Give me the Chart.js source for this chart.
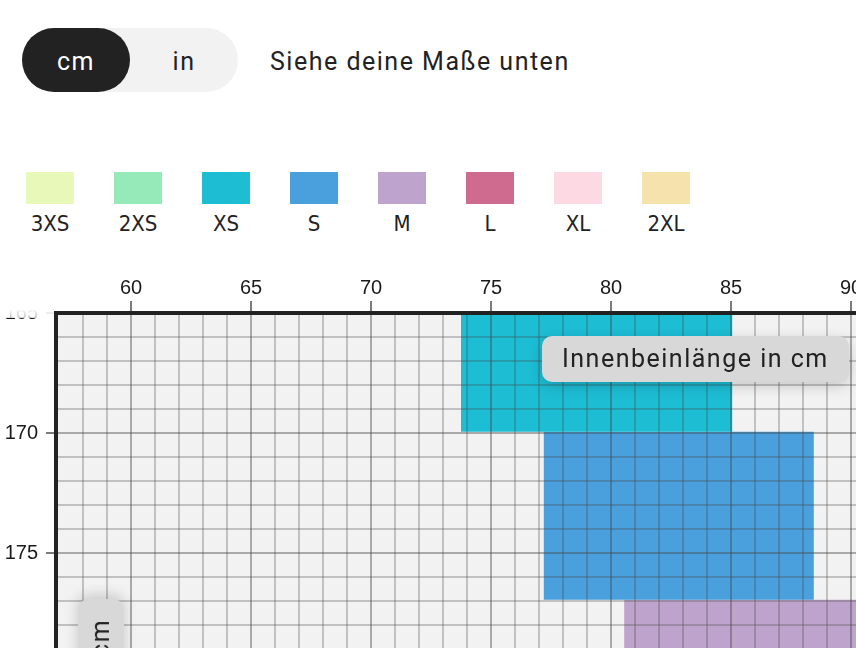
<!DOCTYPE html>
<html>
<head>
<meta charset="utf-8">
<script src="https://cdn.jsdelivr.net/npm/chart.js@4.4.1/dist/chart.umd.min.js"></script>
<style>
html,body{margin:0;padding:0;width:856px;height:648px;overflow:hidden;background:#fff;}
body{position:relative;font-family:Roboto,"Liberation Sans",sans-serif;color:#222;}
.toggle{position:absolute;left:22px;top:28px;width:216px;height:64px;border-radius:32px;background:#f2f2f2;}
.toggle .on{position:absolute;left:0;top:0;width:108px;height:64px;border-radius:32px;background:#222;color:#fff;font-size:25px;line-height:68px;text-align:center;letter-spacing:1.5px;}
.toggle .off{position:absolute;left:108px;top:0;width:108px;height:64px;line-height:68px;text-align:center;font-size:25px;color:#222;letter-spacing:1.5px;}
.hint{position:absolute;left:270px;top:28px;line-height:68px;font-size:25px;letter-spacing:1.5px;white-space:nowrap;}
.li{position:absolute;top:172px;width:48px;height:32px;}
.lt{position:absolute;top:41px;left:-20px;width:88px;text-align:center;line-height:22px;font-family:"Liberation Sans Narrow","DejaVu Sans Condensed",sans-serif;font-size:22px;color:#222;}
#wrap{position:absolute;left:0;top:260px;width:1019px;height:413px;}
.fade{position:absolute;left:0;top:280px;width:54px;height:38px;background:linear-gradient(to bottom,#fff 0,#fff 29px,rgba(255,255,255,0.72) 100%);z-index:2;}
.badge{position:absolute;background:#d8d8d8;border-radius:10px;box-shadow:0 4px 14px rgba(0,0,0,0.18);font-size:25px;letter-spacing:1.5px;color:#222;white-space:nowrap;z-index:3;}
.bh{left:542px;top:336px;height:46px;line-height:46px;padding:0 20px;}
.bv{left:78px;top:599px;width:46px;line-height:46px;padding:20px 0;writing-mode:vertical-rl;transform:rotate(180deg);}
</style>
</head>
<body>
<div class="toggle"><div class="on">cm</div><div class="off">in</div></div>
<div class="hint">Siehe deine Maße unten</div>
<div id="legend"></div>
<div id="wrap"><canvas id="c" width="1019" height="413"></canvas></div>
<div class="fade"></div>
<div class="badge bh">Innenbeinlänge in cm</div>
<div class="badge bv">Körpergröße in cm</div>
<script>
// Legend
const legendSizes = ['3XS','2XS','XS','S','M','L','XL','2XL'];
const legendColors = ['#e8f8b8','#96e9b9','#1dbdd4','#4aa0dc','#bea4cc','#cf6b8e','#fdd9e4','#f5e2ac'];

// Size rectangles visible in the chart (inseam cm on x, body height cm on y)
const rectSizes = ['XS','S','M'];
const inseamMin = [73.75, 77.2, 80.55];
const inseamMax = [85.05, 88.45, 91.85];
const heightMin = [163, 170, 177];
const heightMax = [170, 177, 184];

// Tick labels
const xTickLabels = [60,65,70,75,80,85,90,95];
const yTickLabels = [165,170,175,180];

const X_MIN = 56.875, X_MAX = 97, Y_MIN = 165.05, Y_MAX = 180.05;
const PX_PER_CM = 24, AXIS_W = 56, AXIS_H = 53;

const leg = document.getElementById('legend');
legendSizes.forEach((s,i)=>{
  const d = document.createElement('div');
  d.className = 'li';
  d.style.left = (26 + i*88) + 'px';
  d.style.background = legendColors[i];
  const t = document.createElement('div');
  t.className = 'lt';
  t.textContent = s;
  d.appendChild(t);
  leg.appendChild(d);
});

const colorOf = s => legendColors[legendSizes.indexOf(s)];

const bgPlugin = {
  id:'bg',
  beforeDraw(chart){
    const {ctx, chartArea:a} = chart;
    ctx.save();
    ctx.fillStyle = '#f2f2f2';
    ctx.fillRect(a.left, a.top, a.right-a.left, a.bottom-a.top);
    ctx.restore();
  }
};

const near = (v, list) => {
  const r = Math.round(v);
  return Math.abs(v - r) < 0.1 && list.includes(r) ? r : null;
};
const gridColor = list => ctx => {
  const v = ctx.tick ? ctx.tick.value : NaN;
  return near(v, list) !== null ? 'rgba(70,70,70,0.42)' : 'rgba(70,70,70,0.28)';
};
const tickCol = (list, hideFirst) => ctx => {
  const v = ctx.tick ? ctx.tick.value : NaN;
  if (hideFirst && ctx.index === 0) return 'rgba(0,0,0,0)';
  return near(v, list) !== null ? '#333' : 'rgba(0,0,0,0)';
};
const labelOf = list => v => { const r = near(v, list); return r === null ? '' : String(r); };
const tickFont = {family:'"Liberation Sans", Arial, sans-serif', size:20};

const chart = new Chart(document.getElementById('c'), {
  type:'scatter',
  data:{
    datasets: rectSizes.map((s,i)=>({
      label:s,
      type:'line',
      data:[
        {x:inseamMin[i], y:heightMin[i]},
        {x:inseamMax[i], y:heightMin[i]},
        {x:inseamMax[i], y:heightMax[i]},
        {x:inseamMin[i], y:heightMax[i]},
        {x:inseamMin[i], y:heightMin[i]}
      ],
      backgroundColor: colorOf(s),
      borderColor: colorOf(s),
      borderWidth:0,
      pointRadius:0,
      showLine:true,
      tension:0,
      fill:'shape'
    }))
  },
  options:{
    responsive:false,
    maintainAspectRatio:false,
    animation:false,
    devicePixelRatio:1,
    layout:{padding:0},
    plugins:{legend:{display:false}, tooltip:{enabled:false}},
    scales:{
      x:{
        type:'linear', position:'top', min:X_MIN, max:X_MAX,
        afterFit(s){ s.height = AXIS_H; s.paddingLeft = 0; s.paddingRight = 0; },
        ticks:{stepSize:1, autoSkip:false, maxRotation:0, padding:1, font:tickFont, color:'#1a1a1a',
          callback:labelOf(xTickLabels)},
        grid:{z:1, color:gridColor(xTickLabels), lineWidth:2, tickLength:12, tickWidth:1.3, tickColor:tickCol(xTickLabels, false)},
        border:{z:2, color:'#222', width:4}
      },
      y:{
        type:'linear', position:'left', reverse:true, min:Y_MIN, max:Y_MAX,
        afterFit(s){ s.width = AXIS_W; s.paddingTop = 0; s.paddingBottom = 0; },
        ticks:{stepSize:1, autoSkip:false, padding:8, font:tickFont, color:'#1a1a1a',
          callback:labelOf(yTickLabels)},
        grid:{z:1, color:gridColor(yTickLabels), lineWidth:2, tickLength:10, tickWidth:1.3, tickColor:tickCol(yTickLabels, true)},
        border:{z:2, color:'#222', width:4}
      }
    }
  },
  plugins:[bgPlugin]
});

// make sure the plot keeps exactly 24 px per cm on both axes
for (let k = 0; k < 2; k++) {
  const a = chart.chartArea;
  const dw = (X_MAX - X_MIN) * PX_PER_CM - (a.right - a.left);
  const dh = (Y_MAX - Y_MIN) * PX_PER_CM - (a.bottom - a.top);
  if (Math.abs(dw) > 0.5 || Math.abs(dh) > 0.5) {
    chart.resize(Math.round(chart.width + dw), Math.round(chart.height + dh));
  }
}
</script>
</body>
</html>
